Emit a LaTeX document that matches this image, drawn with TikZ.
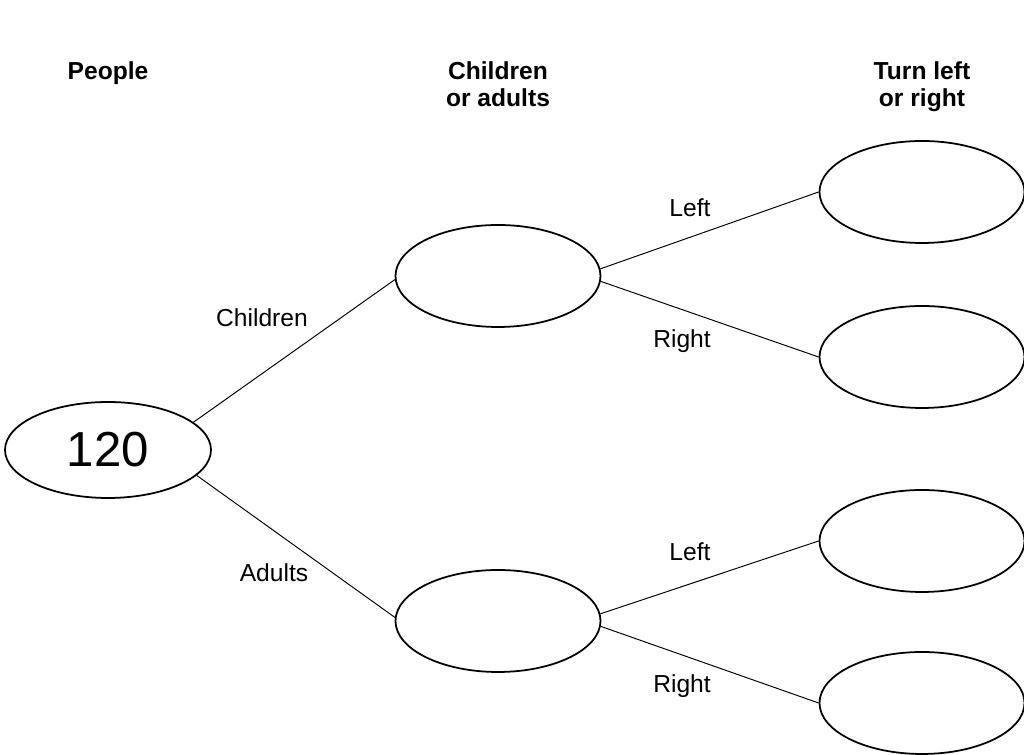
\documentclass[tikz,border=0pt]{standalone}
\usepackage{fontspec}
\setmainfont{Liberation Sans}
\usepackage{tikz}
\usetikzlibrary{shapes.geometric}

\begin{document}
\begin{tikzpicture}[
    every node/.style = {align=center},
    oval/.style    = {draw, ellipse, line width=1pt, inner sep=0pt,
                      minimum width=4.1cm, minimum height=2.04cm},
    rootoval/.style= {oval, minimum width=4.12cm, minimum height=1.92cm,
                      font=\fontsize{28}{30}\selectfont},
    branch/.style  = {line width=0.55pt},
    blabel/.style  = {font=\fontsize{14}{16}\selectfont},
    heading/.style = {font=\fontsize{14}{15.4}\selectfont\bfseries},
]
\useasboundingbox (0,0) rectangle (20.48,15.10);

%% Headings
\node[heading] (hpeople) at (2.16, 13.64) {People};
\node[heading] (hage)    at (9.96, 13.42) {Children\\or adults};
\node[heading] (hturn)   at (18.44,13.36) {Turn left\\or right};

%% Ovals
\node[rootoval] (root) at (2.16, 6.10) {120};
\node[oval] (child) at (9.96, 9.58) {};
\node[oval] (adult) at (9.96, 2.68) {};
\node[oval] (cleft)  at (18.44, 11.26) {};
\node[oval] (cright) at (18.44, 7.96) {};
\node[oval] (aleft)  at (18.44, 4.28) {};
\node[oval] (aright) at (18.44, 1.04) {};

%% Branches
\draw[branch] (root.18)  -- (child.182);
\draw[branch] (root.-16) -- (adult.178);
\draw[branch] (child.4)  -- (cleft.west);
\draw[branch] (child.-3) -- (cright.west);
\draw[branch] (adult.4)  -- (aleft.west);
\draw[branch] (adult.-3) -- (aright.west);

%% Branch labels
\node[blabel] (lchild)  at (5.24, 8.74)  {Children};
\node[blabel] (ladult)  at (5.48, 3.64)  {Adults};
\node[blabel] (lcleft)  at (13.80, 10.94) {Left};
\node[blabel] (lcright) at (13.64, 8.28)  {Right};
\node[blabel] (laleft)  at (13.80, 4.06)  {Left};
\node[blabel] (laright) at (13.64, 1.37)  {Right};

\end{tikzpicture}
\end{document}
